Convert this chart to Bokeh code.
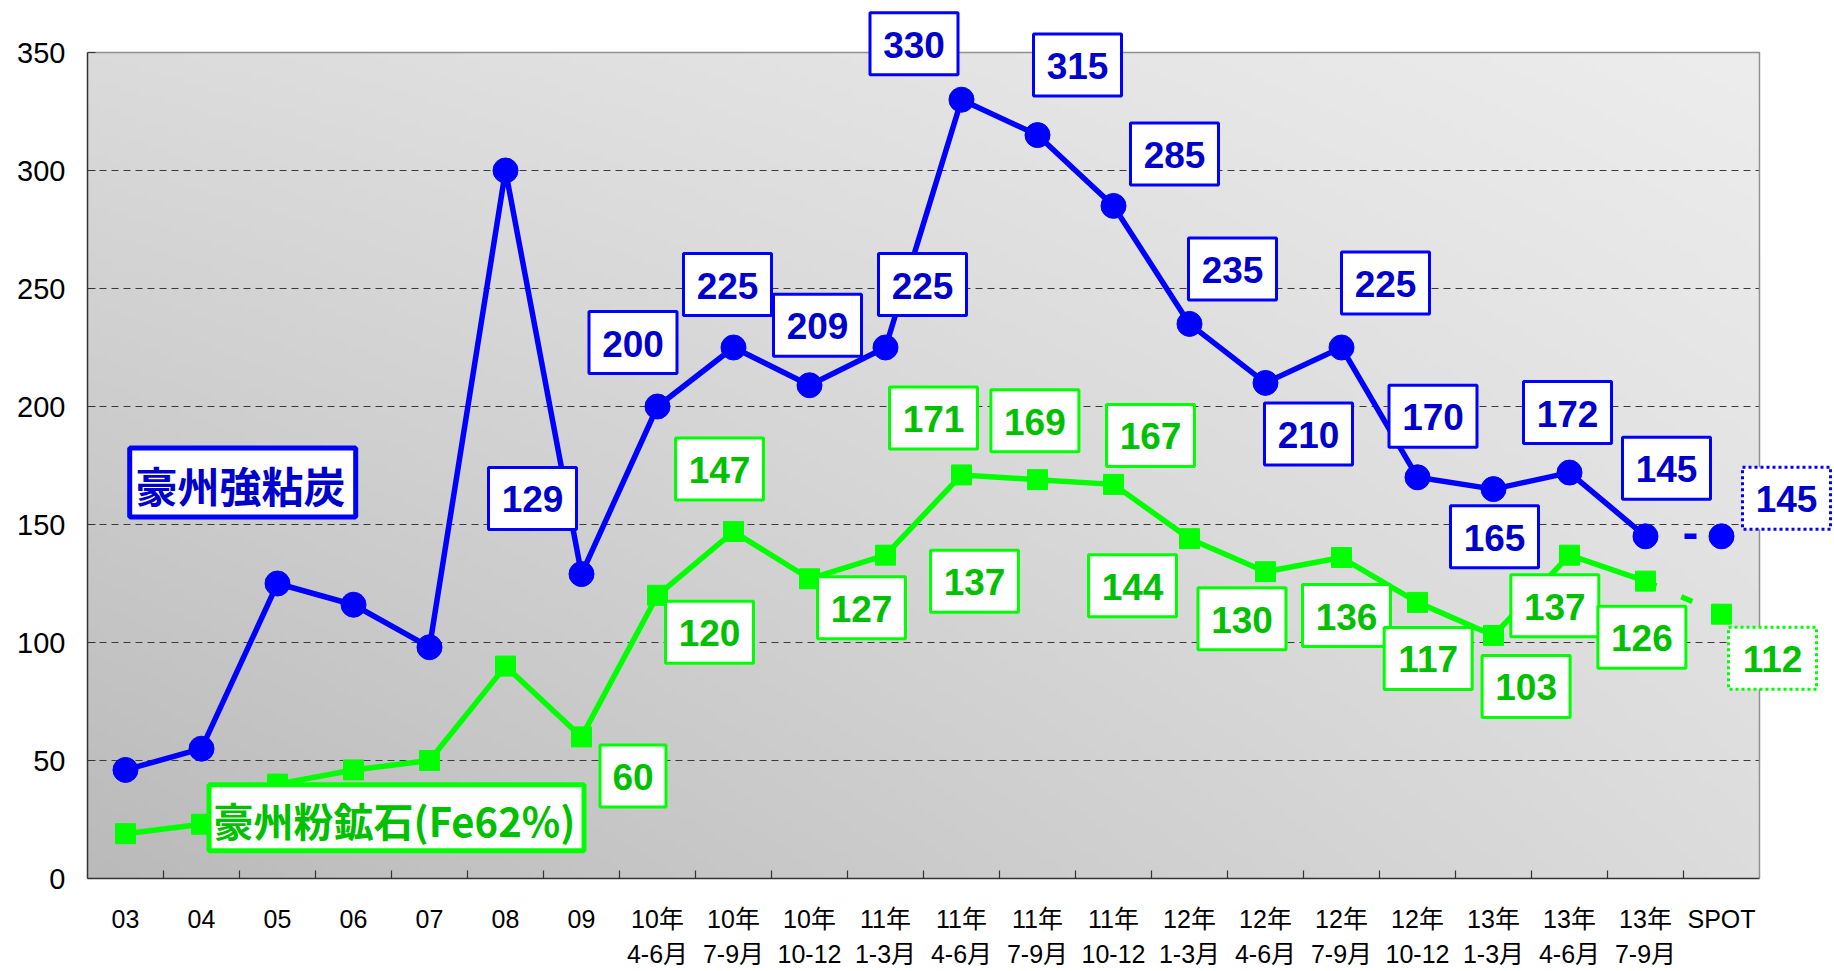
import numpy as np
from bokeh.plotting import figure
from bokeh.models import Range1d, FixedTicker, ColumnDataSource
from bokeh.core.properties import value
from bokeh.embed import file_html
from bokeh.resources import INLINE

# ---------------- data ----------------
categories = ["03", "04", "05", "06", "07", "08", "09",
              "10年\n4-6月", "10年\n7-9月", "10年\n10-12",
              "11年\n1-3月", "11年\n4-6月", "11年\n7-9月", "11年\n10-12",
              "12年\n1-3月", "12年\n4-6月", "12年\n7-9月", "12年\n10-12",
              "13年\n1-3月", "13年\n4-6月", "13年\n7-9月", "SPOT"]
coking_coal = [46, 55, 125, 116, 98, 300, 129, 200, 225, 209, 225, 330, 315,
               285, 235, 210, 225, 170, 165, 172, 145, 145]
iron_ore = [19, 23, 40, 46, 50, 90, 60, 120, 147, 127, 137, 171, 169, 167,
            144, 130, 136, 117, 103, 137, 126, 112]
series_names = ["豪州強粘炭", "豪州粉鉱石(Fe62%)"]
y_ticks = [0, 50, 100, 150, 200, 250, 300, 350]

# first category that carries a value box
label_start = 6
# label-box offsets from their point, in screen pixels (dx right, dy down)
coal_dx = [-49, -24.5, -6, 8, 37, -47.5, 40, 61, 43, 43, 44, 15.5, 1, -2, 21, 65]
coal_dy = [-75.6, -64, -63, -60, -63, -56, -70, -52, -55, 51, -64.5, -61, 47.6, -60, -68, -38]
ore_dx = [51.5, 52, -14, 52, 89, -28, -2.6, 37, -57, -23.5, 5, 10.7, 32.6, -14.7, -3.6, 51]
ore_dy = [39, 37, -62.5, 29, 26, -57, -59, -49, 47, 47, 58, 56, 51, 50.5, 56, 44]

# ---------------- style / geometry ----------------
BLUE, BLUE_TXT = "#0000ff", "#0000cc"
GREEN, GREEN_TXT = "#00ff00", "#00c000"
W, H = 1834, 971
P_LEFT, P_TOP, P_RIGHT, P_BOTTOM = 87, 52, 1759, 878   # plot box in figure px
n = len(categories)
X0, X1 = -0.5, n - 0.5
Y0, Y1 = 0, 350
PX_X = (P_RIGHT - P_LEFT) / (X1 - X0)
PX_Y = (P_BOTTOM - P_TOP) / (Y1 - Y0)

def fx(px):   # figure px -> data x
    return X0 + (px - P_LEFT) / PX_X

def fy(py):   # figure px -> data y
    return Y0 + (P_BOTTOM - py) / PX_Y

# the frame runs to the top and right edges so that boxes outside the plot box stay visible
p = figure(width=W, height=H, output_backend="svg", toolbar_location=None,
           x_range=Range1d(X0, X1 + (W - P_RIGHT) / PX_X),
           y_range=Range1d(Y0, Y1 + P_TOP / PX_Y),
           min_border_left=P_LEFT, min_border_right=0,
           min_border_top=0, min_border_bottom=H - P_BOTTOM)
p.border_fill_color = "white"
p.background_fill_color = "white"
p.outline_line_color = None

# gradient backdrop of the plot box
gh, gw = 128, 256
u = np.linspace(0, 1, gw)[None, :]
w = np.linspace(0, 1, gh)[:, None]
BL, BR, TL, TR = 186.0, 220.0, 219.0, 237.0
g = BL * (1 - u) * (1 - w) + BR * u * (1 - w) + TL * (1 - u) * w + TR * u * w
g = g.astype(np.uint32)
img = (np.uint32(255) << 24) | (g << 16) | (g << 8) | g
p.image_rgba(image=[img.astype(np.uint32)], x=X0, y=Y0, dw=X1 - X0, dh=Y1 - Y0, level="image")

# grid (dashed) limited to the plot box
p.xgrid.grid_line_color = None
p.ygrid.grid_line_color = None
gy = y_ticks[1:-1]
p.segment(x0=[X0] * len(gy), x1=[X1] * len(gy), y0=gy, y1=gy, line_color="#3a3a3a",
          line_width=1, line_dash="7 5", level="underlay")
# top and right border of the plot box
p.line(x=[X0, X1, X1], y=[Y1, Y1, Y0], line_color="#909090", line_width=1.5, level="underlay")

# axes
p.yaxis.bounds = (Y0, Y1)
p.yaxis.ticker = FixedTicker(ticks=y_ticks)
p.yaxis.major_label_text_font = "Liberation Sans"
p.yaxis.major_label_text_font_size = "29px"
p.yaxis.major_label_text_color = "black"
p.yaxis.major_label_standoff = 22
p.yaxis.major_tick_in = 8
p.yaxis.major_tick_out = 0
p.yaxis.minor_tick_line_color = None
p.yaxis.axis_line_color = "#333333"
p.yaxis.axis_line_width = 1.5
p.yaxis.major_tick_line_color = "#333333"

idx = list(range(n))
p.xaxis.bounds = (X0, X1)
p.xaxis.ticker = FixedTicker(ticks=idx, minor_ticks=[k + 0.5 for k in range(n - 1)])
p.xaxis.major_label_overrides = {i: categories[i] for i in idx}
p.xaxis.major_tick_line_color = None
p.xaxis.minor_tick_in = 8
p.xaxis.minor_tick_out = 0
p.xaxis.minor_tick_line_color = "#333333"
p.xaxis.minor_tick_line_width = 1.2
p.xaxis.axis_line_color = "#333333"
p.xaxis.axis_line_width = 1.5
p.xaxis.major_label_text_font = "Liberation Sans, Noto Sans CJK JP"
p.xaxis.major_label_text_font_size = "25px"
p.xaxis.major_label_text_color = "black"
p.xaxis.major_label_text_line_height = 1.27
p.xaxis.major_label_standoff = 20

# ---------------- series ----------------
last = n - 1
for vals, col in ((iron_ore, GREEN), (coking_coal, BLUE)):
    p.line(x=idx[:last], y=vals[:last], line_color=col, line_width=5.5, line_join="round")
    p.line(x=idx[last - 1:], y=vals[last - 1:], line_color=col, line_width=5.5,
           line_dash="12 27")

p.scatter(x=idx, y=iron_ore, marker="square", size=20, fill_color=GREEN, line_color=GREEN)
p.scatter(x=idx, y=coking_coal, marker="circle", size=25, fill_color=BLUE, line_color=BLUE)

# ---------------- value boxes ----------------
def box_source(vals, dxs, dys, sel):
    xs, ys, ws, ts = [], [], [], []
    for k, i in enumerate(range(label_start, n)):
        if i not in sel:
            continue
        t = str(vals[i])
        xs.append(i + dxs[k] / PX_X)
        ys.append(vals[i] - dys[k] / PX_Y)
        ws.append(22 * len(t) + 22)
        ts.append(t)
    return ColumnDataSource(dict(x=xs, y=ys, w=ws, t=ts))

solid = set(range(label_start, n - 1))
spot = {n - 1}
for vals, dxs, dys, col, tcol in ((coking_coal, coal_dx, coal_dy, BLUE, BLUE_TXT),
                                  (iron_ore, ore_dx, ore_dy, GREEN, GREEN_TXT)):
    for sel, dash in ((solid, "solid"), (spot, "3 3")):
        src = box_source(vals, dxs, dys, sel)
        p.rect(x="x", y="y", width="w", height=62, width_units="screen",
               height_units="screen", source=src, fill_color="white",
               line_color=col, line_width=3, line_dash=dash)
        p.text(x="x", y="y", text="t", source=src, text_align="center",
               text_baseline="middle", text_font=value("Liberation Sans"),
               text_font_style="bold", text_font_size="37px", text_color=tcol,
               y_offset=1)

# ---------------- series name boxes ----------------
name_boxes = [
    # (box centre px x, y, width, height, text centre px x, y, font px, colour, text colour)
    (242.2, 482.0, 226, 69, 240.0, 484.0, 42, BLUE, BLUE_TXT),
    (396.0, 817.3, 375, 66, 394.0, 819.5, 40, GREEN, GREEN_TXT),
]
for name, (cx, cy, bw, bh, tx, ty, fs, col, tcol) in zip(series_names, name_boxes):
    p.rect(x=[fx(cx)], y=[fy(cy)], width=bw, height=bh, width_units="screen",
           height_units="screen", fill_color="white", line_color=col, line_width=5)
    p.text(x=[fx(tx)], y=[fy(ty)], text=[name], text_align="center",
           text_baseline="middle", text_font=value("Noto Sans CJK JP"),
           text_font_style="bold", text_font_size=f"{fs}px", text_color=tcol)

open("out.html", "w").write(file_html(p, INLINE, title="豪州強粘炭・豪州粉鉱石"))
